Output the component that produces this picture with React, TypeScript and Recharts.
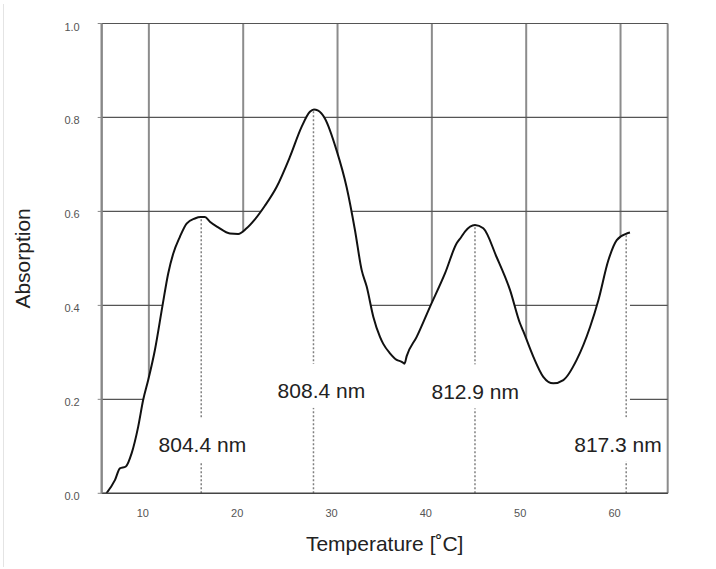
import React from 'react';
import {
  ComposedChart,
  Area,
  XAxis,
  YAxis,
  CartesianGrid,
  ReferenceLine,
  ReferenceDot,
} from 'recharts';

const temperature = [
  5.5, 6.4, 6.93, 7.56, 8.17, 8.87, 9.4, 9.93, 10.64, 11.45, 12.05, 12.58, 13.29, 14.0,
  14.88, 15.5, 15.94, 16.47, 17.35, 18.59, 19.47, 20.36, 21.24, 22.3, 23.54, 24.95,
  26.19, 27.07, 27.5, 27.9, 28.66, 29.9, 30.96, 31.85, 32.56, 33.09, 33.79, 34.5, 34.85,
  35.56, 36.27, 36.8, 37.1, 37.33, 38.39, 39.8, 41.39, 42.63, 43.1, 43.51, 44.57, 45.45,
  46.86, 48.28, 49.34, 49.69, 50.75, 51.81, 52.87, 53.94, 55.35, 56.77, 57.65, 58.71,
  59.6, 60.66, 61.0,
];
const absorption = [
  0.0, 0.028, 0.053, 0.057, 0.085, 0.142, 0.199, 0.241, 0.305, 0.4, 0.468, 0.51, 0.546,
  0.574, 0.585, 0.588, 0.588, 0.578, 0.566, 0.553, 0.552, 0.564, 0.583, 0.612, 0.652,
  0.716, 0.78, 0.812, 0.817, 0.815, 0.798, 0.73, 0.652, 0.56, 0.475, 0.44, 0.376, 0.333,
  0.318, 0.298, 0.284, 0.28, 0.276, 0.292, 0.333, 0.397, 0.468, 0.532, 0.545, 0.557,
  0.571, 0.564, 0.503, 0.433, 0.362, 0.345, 0.291, 0.248, 0.234, 0.241, 0.284, 0.354,
  0.411, 0.496, 0.539, 0.553, 0.555,
];

const peakTemps = [15.55, 27.45, 44.57, 60.6];
const peakAbs = [0.585, 0.815, 0.57, 0.553];
const peakLabels = ['804.4 nm', '808.4 nm', '812.9 nm', '817.3 nm'];
const labelTemps = [15.67, 28.29, 44.6, 59.73];
const labelAbs = [0.103, 0.218, 0.217, 0.104];

const xTicks = [5, 10, 20, 30, 40, 50, 60, 65];
const xTickLabels = ['', '10', '20', '30', '40', '50', '60', ''];
const yTicks = [0, 0.2, 0.4, 0.6, 0.8, 1.0];
const yTickLabels = ['0.0', '0.2', '0.4', '0.6', '0.8', '1.0'];

const data = temperature.map((t, i) => ({ t, a: absorption[i] }));

const FONT = '"Liberation Sans", Arial, Helvetica, sans-serif';
const AXIS_Y = 485.3;

const renderXTick = (props: any) => {
  const { x, payload } = props;
  const idx = xTicks.indexOf(payload.value);
  const txt = idx >= 0 ? xTickLabels[idx] : '';
  if (!txt) return <g />;
  return (
    <text x={x - 6} y={AXIS_Y + 24} textAnchor="middle" fontSize={11} fill="#555555" fontFamily={FONT}>
      {txt}
    </text>
  );
};

const renderYTick = (props: any) => {
  const { x, y, payload } = props;
  const idx = yTicks.findIndex((v) => Math.abs(v - payload.value) < 1e-6);
  const txt = idx >= 0 ? yTickLabels[idx] : '';
  return (
    <text x={x} y={y + 7} textAnchor="end" fontSize={11} fill="#555555" fontFamily={FONT}>
      {txt}
    </text>
  );
};

export default function App() {
  return (
    <div style={{ position: 'relative', width: 700, height: 553, fontFamily: FONT }}>
      <div
        style={{
          position: 'fixed',
          left: 3,
          top: 4,
          width: 1,
          height: 563,
          background: '#e4e4e4',
        }}
      />
      <ComposedChart
        width={700}
        height={553}
        data={data}
        margin={{ top: 15.5, right: 40.3, bottom: 0, left: 0 }}
      >
        <CartesianGrid horizontal={false} vertical stroke="#8c8c8c" strokeWidth={2} />
        <CartesianGrid horizontal vertical={false} stroke="#555" strokeWidth={1.2} />
        <XAxis
          dataKey="t"
          type="number"
          domain={[5, 65]}
          ticks={xTicks}
          interval={0}
          height={67.7}
          axisLine={{ stroke: '#444', strokeWidth: 1.5 }}
          tickLine={false}
          tickSize={0}
          tickMargin={0}
          tick={renderXTick}
          label={{
            content: (p: any) => {
              const vb = p.viewBox || {};
              return (
                <text
                  x={vb.x + vb.width / 2}
                  y={535}
                  textAnchor="middle"
                  dominantBaseline="central"
                  fontSize={21}
                  fill="#222"
                  fontFamily={FONT}
                >
                  Temperature [˚C]
                </text>
              );
            },
          }}
        />
        <YAxis
          type="number"
          domain={[0, 1]}
          ticks={yTicks}
          interval={0}
          width={93.7}
          axisLine={{ stroke: '#888', strokeWidth: 2 }}
          tickLine={{ stroke: '#888', strokeWidth: 1 }}
          tickSize={4}
          tickMargin={18}
          tick={renderYTick}
          label={{
            content: (p: any) => {
              const vb = p.viewBox || {};
              const cy = vb.y + vb.height / 2;
              return (
                <text
                  x={15}
                  y={cy}
                  transform={`rotate(-90, 15, ${cy})`}
                  textAnchor="middle"
                  dominantBaseline="central"
                  fontSize={21}
                  fill="#222"
                  fontFamily={FONT}
                >
                  Absorption
                </text>
              );
            },
          }}
        />
        <Area
          dataKey="a"
          type="monotone"
          stroke="#111"
          strokeWidth={2}
          fill="#ffffff"
          fillOpacity={1}
          baseValue={0}
          dot={false}
          activeDot={false}
          isAnimationActive={false}
        />
        {peakTemps.map((pt, i) => (
          <ReferenceLine
            key={'rl' + i}
            segment={[
              { x: pt, y: 0 },
              { x: pt, y: peakAbs[i] },
            ]}
            stroke="#808080"
            strokeWidth={1.5}
            strokeDasharray="2 2"
            ifOverflow="visible"
          />
        ))}
        {peakTemps.map((pt, i) => (
          <ReferenceDot
            key={'gap' + i}
            x={pt}
            y={labelAbs[i]}
            ifOverflow="visible"
            shape={(p: any) => (
              <rect x={p.cx - 5} y={p.cy - 27} width={10} height={44} fill="#ffffff" />
            )}
          />
        ))}
        {labelTemps.map((lt, i) => (
          <ReferenceDot
            key={'lab' + i}
            x={lt}
            y={labelAbs[i]}
            ifOverflow="visible"
            shape={(p: any) => (
              <text
                x={p.cx}
                y={p.cy}
                textAnchor="middle"
                dominantBaseline="central"
                fontSize={21}
                fill="#222"
                fontFamily={FONT}
              >
                {peakLabels[i]}
              </text>
            )}
          />
        ))}
      </ComposedChart>
    </div>
  );
}
